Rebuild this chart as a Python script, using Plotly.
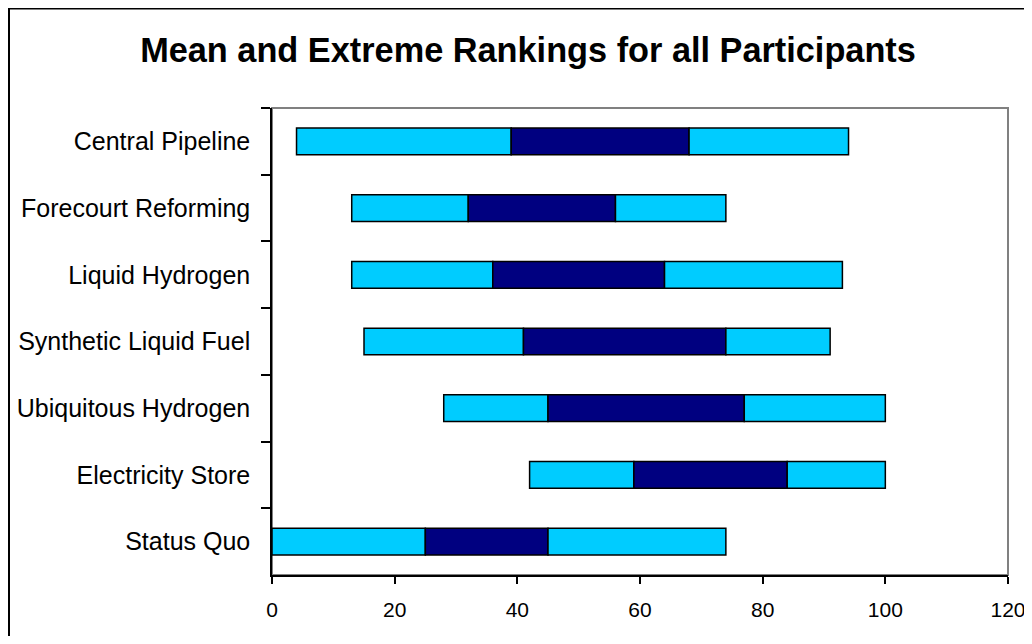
import plotly.graph_objects as go

categories = ["Central Pipeline", "Forecourt Reforming", "Liquid Hydrogen",
              "Synthetic Liquid Fuel", "Ubiquitous Hydrogen", "Electricity Store",
              "Status Quo"]
min_rank = [4, 13, 13, 15, 28, 42, 0]
mean_low = [39, 32, 36, 41, 45, 59, 25]
mean_high = [68, 56, 64, 74, 77, 84, 45]
max_rank = [94, 74, 93, 91, 100, 100, 74]
x_ticks = [0, 20, 40, 60, 80, 100, 120]

LIGHT = "#00CCFF"
DARK = "#000080"

# figure sits at page offset (8, 8) because of the default body margin;
# size it so the page does not overflow the 1032x644 window
W, H = 1024, 628
L, R, T, B = 264, 24, 99.5, 61
pw, ph = W - L - R, H - T - B

def px_x(p):
    return (p - L) / pw

def px_y(p):
    return (H - B - p) / ph

fig = go.Figure()
line = dict(color="black", width=1.5)
fig.add_trace(go.Bar(y=categories, x=[b - a for a, b in zip(min_rank, mean_low)],
                     base=min_rank, orientation="h", width=0.4,
                     marker=dict(color=LIGHT, line=line), showlegend=False))
fig.add_trace(go.Bar(y=categories, x=[b - a for a, b in zip(mean_low, mean_high)],
                     base=mean_low, orientation="h", width=0.4,
                     marker=dict(color=DARK, line=line), showlegend=False))
fig.add_trace(go.Bar(y=categories, x=[b - a for a, b in zip(mean_high, max_rank)],
                     base=mean_high, orientation="h", width=0.4,
                     marker=dict(color=LIGHT, line=line), showlegend=False))

fig.update_layout(
    width=W, height=H,
    margin=dict(l=L, r=R, t=T, b=B, autoexpand=False),
    barmode="overlay",
    plot_bgcolor="white", paper_bgcolor="white",
    font=dict(family="Liberation Sans, Arial", color="black"),
    title=dict(text="<b>Mean and Extreme Rankings for all Participants</b>",
               x=520 / W, xref="container", xanchor="center",
               y=1 - 42 / H, yref="container", yanchor="middle",
               font=dict(size=34.3, family="Liberation Sans, Arial", color="black")),
    xaxis=dict(range=[0, 120], tickvals=x_ticks, showgrid=False, zeroline=False,
               showline=True, linecolor="black", linewidth=1.5,
               ticks="outside", ticklen=7, tickcolor="black", tickwidth=1.5,
               tickfont=dict(size=21), ticklabelstandoff=8,
               ticklabeloverflow="allow", automargin=False),
    yaxis=dict(categoryorder="array", categoryarray=categories, autorange="reversed",
               showgrid=False, zeroline=False, showline=True, linecolor="black",
               linewidth=1.5, ticks="outside", ticklen=9, tickson="boundaries",
               tickcolor="black", tickwidth=1.5, tickfont=dict(size=25),
               ticklabelstandoff=15, automargin=False),
    shapes=[
        dict(type="rect", xref="paper", yref="paper", x0=0, y0=0, x1=1, y1=1,
             line=dict(color="#808080", width=2), layer="below"),
        dict(type="rect", xref="paper", yref="paper",
             x0=px_x(1), y0=px_y(660), x1=px_x(1060), y1=px_y(0),
             line=dict(color="black", width=2), layer="below"),
    ],
)

fig.write_html("out.html")
